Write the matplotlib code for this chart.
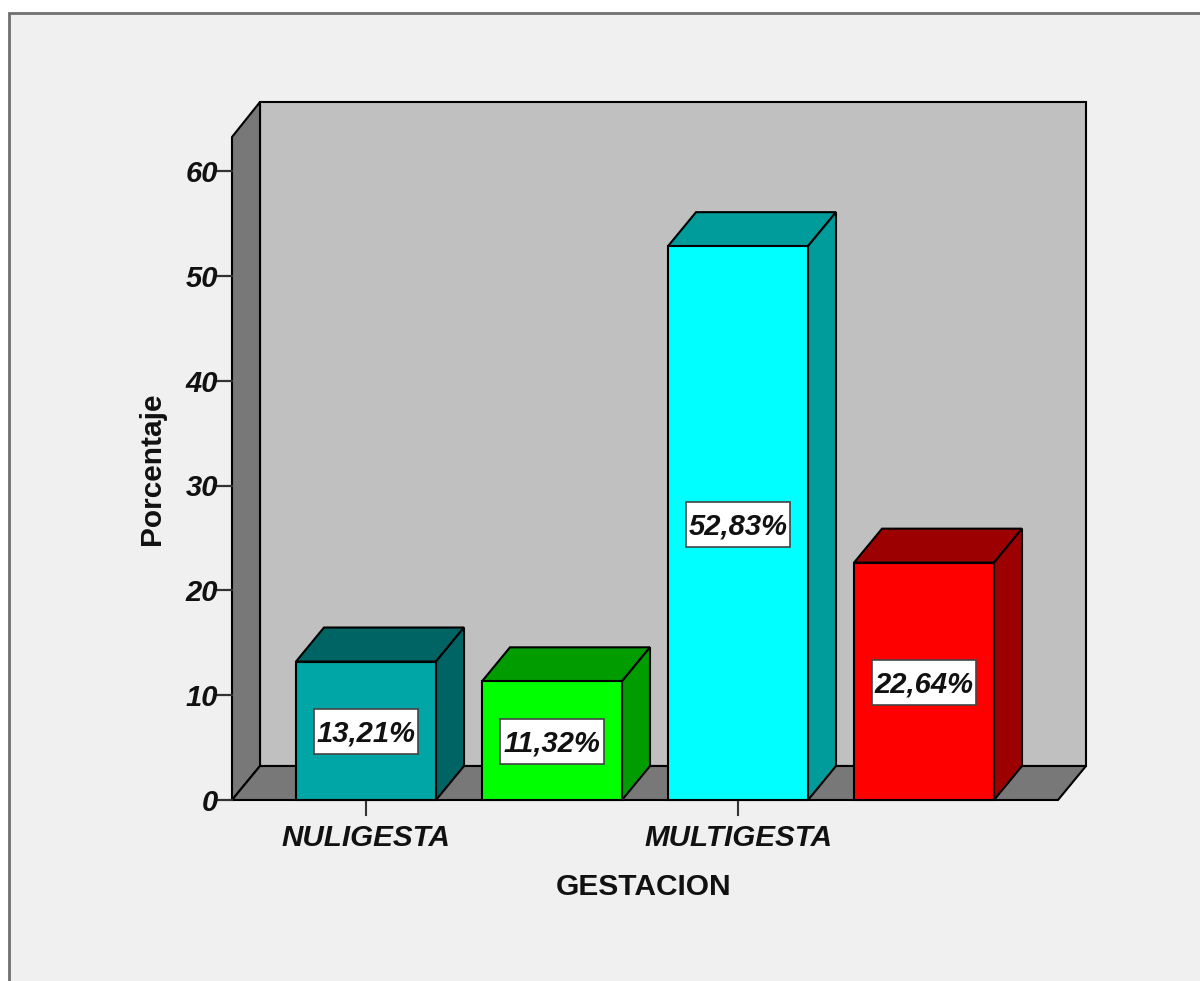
import matplotlib
matplotlib.use('Agg')
from matplotlib import pyplot as plt
from matplotlib.patches import Polygon, Rectangle

plt.rcParams['font.family'] = ['Liberation Sans', 'DejaVu Sans']

values = [13.21, 11.32, 52.83, 22.64]
labels = ['13,21%', '11,32%', '52,83%', '22,64%']
front_colors = ['#00A5A5', '#00FF00', '#00FFFF', '#FF0000']
side_colors = ['#006464', '#009C00', '#009C9C', '#9C0000']
y_ticks = [0, 10, 20, 30, 40, 50, 60]
groups = ['NULIGESTA', 'MULTIGESTA']

fig = plt.figure(figsize=(12, 9.81), dpi=100, facecolor='white')
ax = fig.add_axes([0, 0, 1, 1])
ax.set_xlim(0, 1200)
ax.set_ylim(981, 0)
ax.axis('off')

# pixel helpers, y0 = value 0 on the front plane
y0 = 800
per_unit = (800 - 171) / 60
dx, dy = 28, 34
left, right = 232, 1058
top = 137
ink = '#111111'


def yp(v):
    return y0 - v * per_unit


# outer panel
ax.add_patch(Rectangle((9, 13), 1300, 1100, fc='#F0F0F0', ec='#707070', lw=2))

# back wall, side wall, floor
ax.add_patch(Polygon([(left + dx, top - dy - 1), (right + dx, top - dy - 1), (right + dx, y0 - dy), (left + dx, y0 - dy)],
                     fc='#C0C0C0', ec='black', lw=1.5))
ax.add_patch(Polygon([(left, top), (left + dx, top - dy - 1), (left + dx, y0 - dy), (left, y0)],
                     fc='#787878', ec='black', lw=1.5))
ax.add_patch(Polygon([(left, y0), (left + dx, y0 - dy), (right + dx, y0 - dy), (right, y0)],
                     fc='#787878', ec='black', lw=1.5))

# axis ticks
for t in y_ticks:
    ax.plot([left - 15, left], [yp(t), yp(t)], color='#333333', lw=1.6, zorder=1)
    ax.text(left - 14, yp(t) + 3, str(t), ha='right', va='center', fontsize=21,
            fontweight='bold', fontstyle='italic', color=ink, zorder=2)

# bars
bar_x = [296, 482, 668, 854]
bar_w = 140
box_w, box_h = 104, 45
for x, v, fc, sc, lab in zip(bar_x, values, front_colors, side_colors, labels):
    y = yp(v)
    ax.add_patch(Polygon([(x, y), (x + dx, y - dy), (x + bar_w + dx, y - dy), (x + bar_w, y)],
                         fc=sc, ec='black', lw=1.5, zorder=3))
    ax.add_patch(Polygon([(x + bar_w, y), (x + bar_w + dx, y - dy), (x + bar_w + dx, y0 - dy), (x + bar_w, y0)],
                         fc=sc, ec='black', lw=1.5, zorder=3))
    ax.add_patch(Rectangle((x, y), bar_w, y0 - y, fc=fc, ec='black', lw=1.5, zorder=4))
    cx, cy = x + bar_w / 2, (y + y0) / 2 + 1
    ax.add_patch(Rectangle((cx - box_w / 2, cy - box_h / 2), box_w, box_h, fc='white', ec='#444444', lw=1.2, zorder=5))
    ax.text(cx, cy + 2, lab, ha='center', va='center', fontsize=21,
            fontweight='bold', fontstyle='italic', color=ink, zorder=6)

# category ticks and labels
for x, g in zip([366, 738], groups):
    ax.plot([x, x], [y0, y0 + 15], color='#333333', lw=1.5)
    ax.text(x, 838, g, ha='center', va='center', fontsize=21.3,
            fontweight='bold', fontstyle='italic', color=ink)

ax.text(644, 887, 'GESTACION', ha='center', va='center', fontsize=21.5, fontweight='bold', color=ink)
ax.text(152, 469, 'Porcentaje', ha='center', va='center', rotation=90, fontsize=21.5,
        fontweight='bold', color=ink)

fig.savefig('out.png', dpi=100)
plt.close(fig)
